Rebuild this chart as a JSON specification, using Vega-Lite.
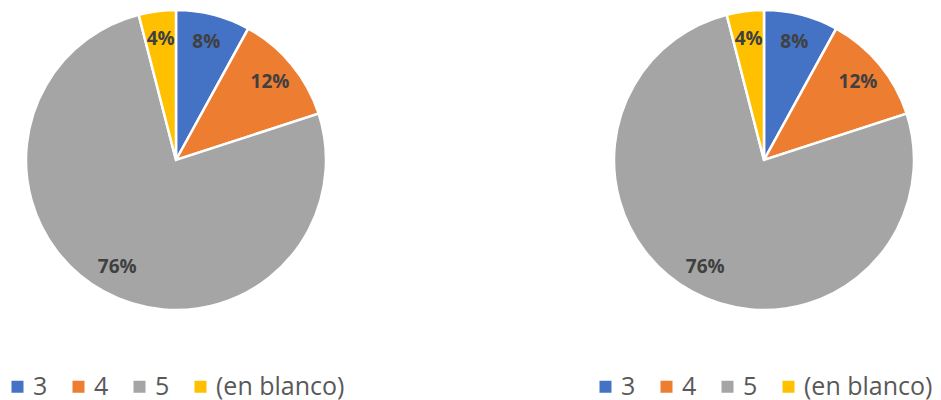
{
  "$schema": "https://vega.github.io/schema/vega-lite/v6.json",
  "background": "white",
  "padding": 0,
  "spacing": 236,
  "datasets": {
    "pie": [
      {"categoria": "3", "orden": 1, "porcentaje": 0.08},
      {"categoria": "4", "orden": 2, "porcentaje": 0.12},
      {"categoria": "5", "orden": 3, "porcentaje": 0.76},
      {"categoria": "(en blanco)", "orden": 4, "porcentaje": 0.04}
    ]
  },
  "config": {
    "view": {"stroke": null},
    "font": "Open Sans",
    "legend": {"padding": 0}
  },
  "resolve": {"legend": {"color": "independent"}, "scale": {"color": "independent"}},
  "hconcat": [
    {
      "width": 352,
      "height": 320,
      "data": {"name": "pie"},
      "encoding": {
        "theta": {"field": "porcentaje", "type": "quantitative", "stack": true},
        "order": {"field": "orden", "type": "quantitative"},
        "color": {
          "field": "categoria",
          "type": "nominal",
          "scale": {"domain": ["3", "4", "5", "(en blanco)"], "range": ["#4472C4", "#ED7D31", "#A5A5A5", "#FFC000"]},
          "sort": ["3", "4", "5", "(en blanco)"],
          "legend": {
            "title": null,
            "orient": "none",
            "legendX": 5,
            "legendY": 374,
            "direction": "horizontal",
            "columns": 4,
            "symbolType": "square",
            "symbolSize": 144,
            "symbolStrokeWidth": 0,
            "labelFontSize": 25,
            "labelColor": "#595959",
            "labelFont": "Open Sans",
            "labelOffset": 3,
            "columnPadding": 18,
            "labelLimit": 300
          }
        }
      },
      "layer": [
        {"mark": {"type": "arc", "outerRadius": 150, "stroke": "white", "strokeWidth": 2.5}},
        {
          "mark": {"type": "text", "radius": 122, "fontSize": 19, "fontWeight": "bold", "font": "Open Sans"},
          "encoding": {
            "text": {"field": "porcentaje", "type": "quantitative", "format": ".0%"},
            "color": {"value": "#404040"}
          }
        }
      ]
    },
    {
      "width": 352,
      "height": 320,
      "data": {"name": "pie"},
      "encoding": {
        "theta": {"field": "porcentaje", "type": "quantitative", "stack": true},
        "order": {"field": "orden", "type": "quantitative"},
        "color": {
          "field": "categoria",
          "type": "nominal",
          "scale": {"domain": ["3", "4", "5", "(en blanco)"], "range": ["#4472C4", "#ED7D31", "#A5A5A5", "#FFC000"]},
          "sort": ["3", "4", "5", "(en blanco)"],
          "legend": {
            "title": null,
            "orient": "none",
            "legendX": 5,
            "legendY": 374,
            "direction": "horizontal",
            "columns": 4,
            "symbolType": "square",
            "symbolSize": 144,
            "symbolStrokeWidth": 0,
            "labelFontSize": 25,
            "labelColor": "#595959",
            "labelFont": "Open Sans",
            "labelOffset": 3,
            "columnPadding": 18,
            "labelLimit": 300
          }
        }
      },
      "layer": [
        {"mark": {"type": "arc", "outerRadius": 150, "stroke": "white", "strokeWidth": 2.5}},
        {
          "mark": {"type": "text", "radius": 122, "fontSize": 19, "fontWeight": "bold", "font": "Open Sans"},
          "encoding": {
            "text": {"field": "porcentaje", "type": "quantitative", "format": ".0%"},
            "color": {"value": "#404040"}
          }
        }
      ]
    }
  ]
}
